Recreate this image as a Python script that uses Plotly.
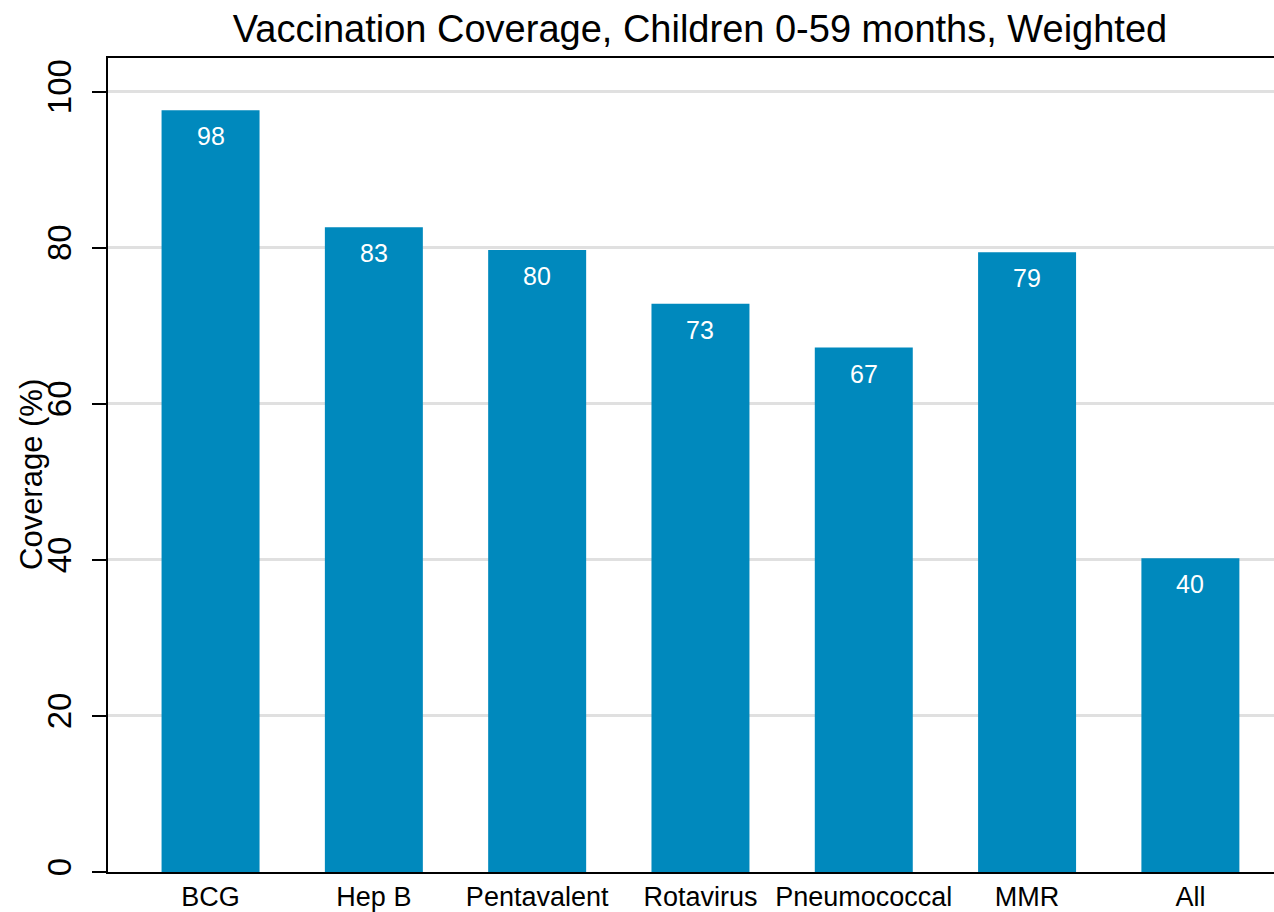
import plotly.graph_objects as go

# Vaccination coverage by antigen (percent, weighted)
vaccines = ["BCG", "Hep B", "Pentavalent", "Rotavirus", "Pneumococcal", "MMR", "All"]
coverage = [97.6, 82.6, 79.7, 72.8, 67.2, 79.4, 40.2]
y_ticks = [0, 20, 40, 60, 80, 100]

FONT = "Liberation Sans, Arial, sans-serif"
BAR_COLOR = "#0089BD"

fig = go.Figure(
    go.Bar(
        x=vaccines,
        y=coverage,
        width=0.6,
        marker=dict(color=BAR_COLOR, line=dict(width=0)),
        hoverinfo="x+y",
    )
)

# value labels just inside the top of each bar
for name, val in zip(vaccines, coverage):
    fig.add_annotation(
        x=name, y=val, xref="x", yref="y",
        text=f"{val:.0f}", showarrow=False,
        yshift=-26, font=dict(family=FONT, size=25, color="white"),
    )

# rotated y-axis title
fig.add_annotation(
    x=0, y=0.5, xref="paper", yref="paper",
    xanchor="center", yanchor="middle",
    text="Coverage (%)", textangle=-90, showarrow=False,
    xshift=-77, yshift=-10, font=dict(family=FONT, size=31, color="black"),
)

fig.update_layout(
    width=1274,
    height=912,
    margin=dict(l=108, r=0, t=58, b=38),
    paper_bgcolor="white",
    plot_bgcolor="white",
    showlegend=False,
    title=dict(
        text="Vaccination Coverage, Children 0-59 months, Weighted",
        x=700 / 1274, xref="container", xanchor="center",
        y=1 - 29 / 912, yref="container", yanchor="middle",
        font=dict(family=FONT, size=38, color="black"),
    ),
    bargap=0.4,
)

fig.update_xaxes(
    range=[-0.628, 6.512],
    showline=True, linecolor="black", linewidth=2,
    mirror=True,
    ticks="", showgrid=False,
    tickfont=dict(family=FONT, size=27, color="black"),
    fixedrange=True,
)

fig.update_yaxes(
    range=[0, 104.3],
    tickvals=y_ticks,
    ticktext=[str(t) for t in y_ticks],
    tickangle=-90,
    ticks="outside", ticklen=14, tickwidth=2, tickcolor="black",
    ticklabelstandoff=8,
    showline=True, linecolor="black", linewidth=2,
    showgrid=True, gridcolor="#E0E0E0", gridwidth=3,
    zeroline=False,
    tickfont=dict(family=FONT, size=33, color="black"),
    fixedrange=True,
)

fig.write_html("out.html")
